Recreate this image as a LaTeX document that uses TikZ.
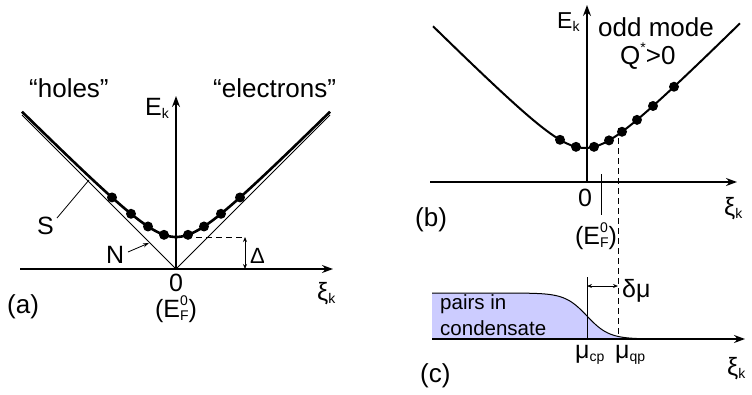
\documentclass[tikz,border=0pt]{standalone}
\usepackage{fontspec}
\setmainfont{Liberation Sans}
\usetikzlibrary{arrows.meta}
\definecolor{fillblue}{RGB}{204,204,255}
\newcommand{\lowtxt}[1]{\raisebox{-0.3ex}{\fontsize{14}{14}\selectfont #1}}
\newcommand{\hightxt}[1]{\raisebox{0.85ex}{\fontsize{14}{14}\selectfont #1}}
\newcommand{\EFzero}{E\rlap{\hightxt{0}}\lowtxt{F}}
\tikzset{
  axis/.style={line width=1.4pt,-{Stealth[length=11pt,width=8pt]}},
  thinln/.style={line width=0.9pt},
  scurve/.style={line width=2.6pt},
  bcurve/.style={line width=2pt},
  dot/.style={circle,fill=black,minimum size=10pt,inner sep=0pt},
  lbl/.style={anchor=base west,inner sep=0pt},
  lblc/.style={anchor=base,inner sep=0pt},
  big/.style={font=\fontsize{26}{28}\selectfont},
  mid/.style={font=\fontsize{25}{27}\selectfont},
  small/.style={font=\fontsize{20.5}{22}\selectfont},
  dashln/.style={line width=0.9pt,dash pattern=on 6pt off 4pt},
  smallarrows/.style={line width=0.9pt,{Stealth[length=5pt,width=4pt]}-{Stealth[length=5pt,width=4pt]}},
}
\begin{document}
\begin{tikzpicture}[x=1pt,y=-1pt,font=\fontsize{25}{27}\selectfont]
\path[use as bounding box] (0,0) rectangle (752,394);
% ---------------- panel (a)
\coordinate (aO) at (176,269);
\coordinate (aXl) at (20,269);
\coordinate (aXr) at (333,269);
\coordinate (aYt) at (176,96);
\coordinate (aNl) at (22,115);
\coordinate (aNr) at (330,115);
\draw[axis] (aXl) -- (aXr);
\draw[axis] (aO) -- (aYt);
\draw[thinln] (aNl) -- (aO) -- (aNr);
\draw[scurve] plot[domain=22:330,samples=90] (\x,{269-10*sqrt(((\x-176)/10)^2+10.24)});
\foreach \d [count=\i] in {-64,-45,-28,-12,12,28,45,64}
  \node[dot] (ad\i) at ({176+\d},{269-sqrt(\d*\d+1024)}) {};
\coordinate (dL) at (196,237);
\coordinate (dT) at (245,237);
\coordinate (dB) at (245,269);
\draw[dashln] (dL) -- (dT);
\draw[smallarrows] (dT) -- (dB);
\node[lbl,big] (holes) at (29,97) {“holes”};
\node[lbl,big] (electrons) at (213,97) {“electrons”};
\node[lbl,mid] (aEk) at (145,115) {E\lowtxt{k}};
\node[lbl,mid] (aS) at (37,234) {S};
\node[lbl,mid] (aN) at (106,263) {N};
\node[lbl,font=\fontsize{22}{24}\selectfont] (aDelta) at (250,263) {Δ};
\node[lblc,mid] (azero) at (176,291) {0};
\node[lblc,mid] (aEF) at (176,317) {(\EFzero)};
\node[lbl,big] (alab) at (7,313) {(a)};
\node[lbl,mid] (axi) at (317,300) {ξ\lowtxt{k}};
\coordinate (sA) at (57,218);
\coordinate (sB) at (89,180);
\draw[line width=0.8pt] (sA) -- (sB);
\coordinate (nA) at (128,252);
\coordinate (nB) at (149,243);
\draw[line width=0.8pt,-{Stealth[length=6pt,width=4pt]}] (nA) -- (nB);
% ---------------- panel (b)
\coordinate (bO) at (587,182);
\coordinate (bXl) at (430,182);
\coordinate (bXr) at (737,182);
\coordinate (bYt) at (587,5);
\draw[axis] (bXl) -- (bXr);
\draw[axis] (bO) -- (bYt);
\draw[bcurve] plot[domain=433:740,samples=90] (\x,{182-10*sqrt(((\x-585)/10)^2+11.56)});
\foreach \xx [count=\i] in {560,576,594,609,622,637,653,674}
  \node[dot] (bd\i) at (\xx,{182-sqrt((\xx-585)*(\xx-585)+1156)}) {};
\coordinate (bFt) at (601,174);
\coordinate (bFb) at (601,215);
\draw[thinln] (bFt) -- (bFb);
\coordinate (qpT) at (618,128);
\coordinate (qpB) at (618,339);
\draw[dashln] (qpT) -- (qpB);
\node[lbl,font=\fontsize{23}{25}\selectfont] (bEk) at (557,28) {E\lowtxt{k}};
\node[lbl,big] (odd) at (598,36) {odd mode};
\node[lbl,big] (Qs) at (620,64) {Q\hightxt{*}>0};
\node[lblc,mid] (bzero) at (585,206) {0};
\node[lblc,mid] (bEF) at (596,244) {(\EFzero)};
\node[lbl,big] (blab) at (415,226) {(b)};
\node[lbl,mid] (bxi) at (724,215) {ξ\lowtxt{k}};
% ---------------- panel (c)
\coordinate (cXl) at (432,339);
\coordinate (cXr) at (745,339);
\fill[fillblue] (cXl) -- plot[domain=432:677,samples=100] (\x,{339-46/(1+exp((\x-587)/11))}) -- (677,339) -- cycle;
\draw[line width=1pt] plot[domain=432:677,samples=100] (\x,{339-46/(1+exp((\x-587)/11))});
\draw[axis] (cXl) -- (cXr);
\coordinate (cpT) at (587,277);
\coordinate (cpB) at (587,339);
\draw[thinln] (cpT) -- (cpB);
\coordinate (dmL) at (587,286);
\coordinate (dmR) at (618,286);
\draw[smallarrows] (dmL) -- (dmR);
\node[lbl,mid] (dmu) at (622,297) {δμ};
\node[lbl,small] (pairs) at (440,309) {pairs in};
\node[lbl,small] (conds) at (440,335) {condensate};
\node[lbl,mid] (mucp) at (575,358) {μ\lowtxt{cp}};
\node[lbl,mid] (muqp) at (615,358) {μ\lowtxt{qp}};
\node[lbl,big] (clab) at (420,382) {(c)};
\node[lbl,mid] (cxi) at (727,375) {ξ\lowtxt{k}};
\end{tikzpicture}
\end{document}
